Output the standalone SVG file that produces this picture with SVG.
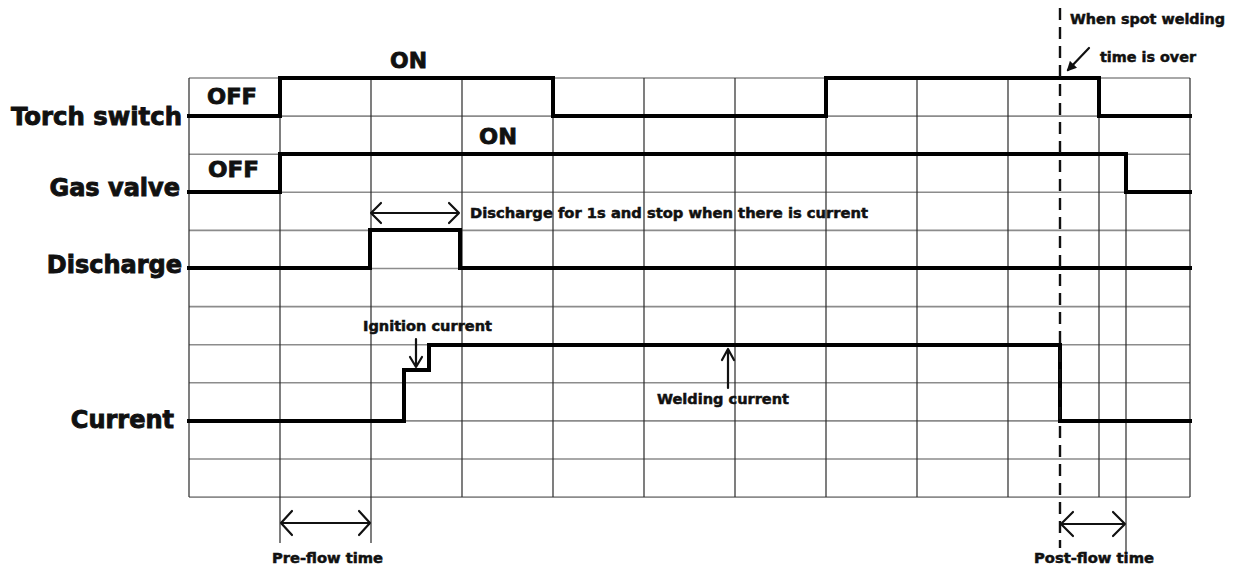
<svg xmlns="http://www.w3.org/2000/svg" width="1233" height="568" viewBox="0 0 1233 568">
<style>
.bg{fill:#ffffff}
.hg{stroke:#8c8c8c;stroke-width:1.6;fill:none}
.vg{stroke:#2a2a2a;stroke-width:1.2;fill:none}
.sig{stroke:#000;stroke-width:4;fill:none;stroke-linejoin:miter;stroke-linecap:square}
.arr{stroke:#111;stroke-width:2.2;fill:none;stroke-linecap:round;stroke-linejoin:round}
.dash{stroke:#111;stroke-width:2.4;stroke-dasharray:12 7;fill:none}
.big{font-family:"DejaVu Sans",sans-serif;font-weight:bold;font-size:24px;fill:#111;stroke:#111;stroke-width:0.9}
.mid{font-family:"DejaVu Sans",sans-serif;font-weight:bold;font-size:22px;fill:#111;stroke:#111;stroke-width:0.8}
.sm{font-family:"DejaVu Sans",sans-serif;font-weight:bold;font-size:13.5px;fill:#111;stroke:#111;stroke-width:0.5}
</style>
<defs>
<marker id="fillhead" viewBox="0 0 10 10" refX="8" refY="5" markerWidth="4.5" markerHeight="4.5" orient="auto">
<path d="M0,0 L10,5 L0,10 z" fill="#111"/>
</marker>
</defs>
<rect class="bg" x="0" y="0" width="1233" height="568"/>

<g id="grid">
<path class="hg" d="M189,78H1190M189,116.1H1190M189,154.2H1190M189,192.3H1190M189,230.4H1190M189,268.5H1190M189,306.6H1190M189,344.7H1190M189,382.8H1190M189,420.9H1190M189,459H1190M189,497.1H1190"/>
<path class="vg" d="M189,78V497M280,78V543M371,78V543M462,78V497M553,78V497M644,78V497M735,78V497M826,78V497M917,78V497M1008,78V497M1099,78V497M1190,78V497M1126,154V558"/>
</g>

<g id="labels">
<text class="big" x="182" y="125" text-anchor="end" textLength="171" lengthAdjust="spacingAndGlyphs">Torch switch</text>
<text class="big" x="180" y="196" text-anchor="end">Gas valve</text>
<text class="big" x="182" y="273" text-anchor="end">Discharge</text>
<text class="big" x="174" y="428" text-anchor="end">Current</text>
</g>

<g id="torch-switch">
<path class="sig" d="M189,116H280V78H553V116H826V78H1099V116H1190"/>
<text class="mid" x="207" y="104" textLength="50" lengthAdjust="spacingAndGlyphs">OFF</text>
<text class="mid" x="390" y="68" textLength="37" lengthAdjust="spacingAndGlyphs">ON</text>
</g>

<g id="gas-valve">
<path class="sig" d="M189,192H280V154H1126V192H1190"/>
<text class="mid" x="208" y="177" textLength="51" lengthAdjust="spacingAndGlyphs">OFF</text>
<text class="mid" x="479" y="144" textLength="38" lengthAdjust="spacingAndGlyphs">ON</text>
</g>

<g id="discharge">
<path class="sig" d="M189,268H370V230H460V268H1190"/>
<text class="sm" x="470" y="218" textLength="398" lengthAdjust="spacingAndGlyphs">Discharge for 1s and stop when there is current</text>
</g>

<g id="current">
<path class="sig" d="M189,421H404V370H429V345H1060V421H1190"/>
<text class="sm" x="363" y="331" textLength="129" lengthAdjust="spacingAndGlyphs">Ignition current</text>
<text class="sm" x="657" y="404" textLength="132" lengthAdjust="spacingAndGlyphs">Welding current</text>
</g>

<g id="spot-end">
<path class="dash" d="M1060,8V548"/>
<text class="sm" x="1070" y="24" textLength="155" lengthAdjust="spacingAndGlyphs">When spot welding</text>
<text class="sm" x="1100" y="62" textLength="96" lengthAdjust="spacingAndGlyphs">time is over</text>
</g>

<g id="times">
<text class="sm" x="272" y="563" textLength="111" lengthAdjust="spacingAndGlyphs">Pre-flow time</text>
<text class="sm" x="1034" y="563" textLength="120" lengthAdjust="spacingAndGlyphs">Post-flow time</text>
</g>

<g id="connectors">
<path class="arr" d="M371,213H459M381,203L371,213L381,223M449,203L459,213L449,223"/>
<path class="arr" d="M281,523H370M292,511L281,523L292,535M359,511L370,523L359,535"/>
<path class="arr" d="M1061,524H1125M1073,512L1061,524L1073,536M1113,512L1125,524L1113,536"/>
<path class="arr" d="M416,339V367M410,357L416,367L422,357" stroke-width="1.8"/>
<path class="arr" d="M728,388V350M722,360L728,349L734,360"/>
<path class="arr" d="M1089,48L1068,70" stroke-width="2.6" marker-end="url(#fillhead)"/>
</g>
</svg>
